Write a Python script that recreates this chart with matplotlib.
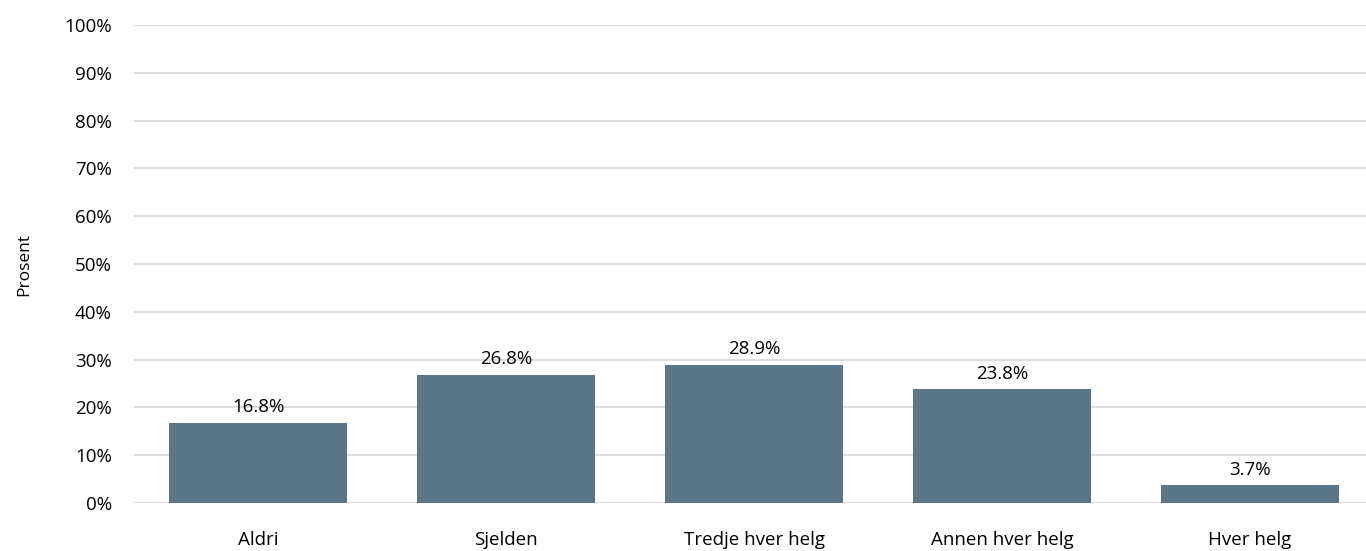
import matplotlib
matplotlib.use("Agg")
import matplotlib.pyplot as plt
from matplotlib.ticker import FuncFormatter, MultipleLocator

categories = ["Aldri", "Sjelden", "Tredje hver helg", "Annen hver helg", "Hver helg"]
values = [16.8, 26.8, 28.9, 23.8, 3.7]

plt.rcParams['font.family'] = ['Open Sans', 'DejaVu Sans']

W, H = 1366, 551
fig = plt.figure(figsize=(W/100, H/100), dpi=100)
left, right, top, bottom = 134, 1366, 25, 503
ax = fig.add_axes([left/W, 1-bottom/H, (right-left)/W, (bottom-top)/H])

x = list(range(len(categories)))
bars = ax.bar(x, values, width=0.718, color="#5a7585", zorder=3)
for xi, v in zip(x, values):
    ax.text(xi, v + 1.4, f"{v:.1f}%", ha="center", va="bottom", fontsize=13.5, color="#000000")

ax.set_ylim(0, 100)
ax.set_xlim(-0.5, 4.5 - 8/248)
ax.yaxis.set_major_locator(MultipleLocator(10))
ax.yaxis.set_major_formatter(FuncFormatter(lambda v, p: f"{v:.0f}%"))
ax.grid(axis="y", color="#d9d9d9", linewidth=1.3, zorder=0)
ax.set_xticks(x)
ax.set_xticklabels(categories, fontsize=13.5)
ax.tick_params(axis="y", labelsize=13.5, length=0, pad=16)
ax.tick_params(axis="x", length=0, pad=20)
for s in ax.spines.values():
    s.set_visible(False)
ax.set_ylabel("Prosent", fontsize=12.5, labelpad=23)

fig.savefig("out.png", dpi=100)
